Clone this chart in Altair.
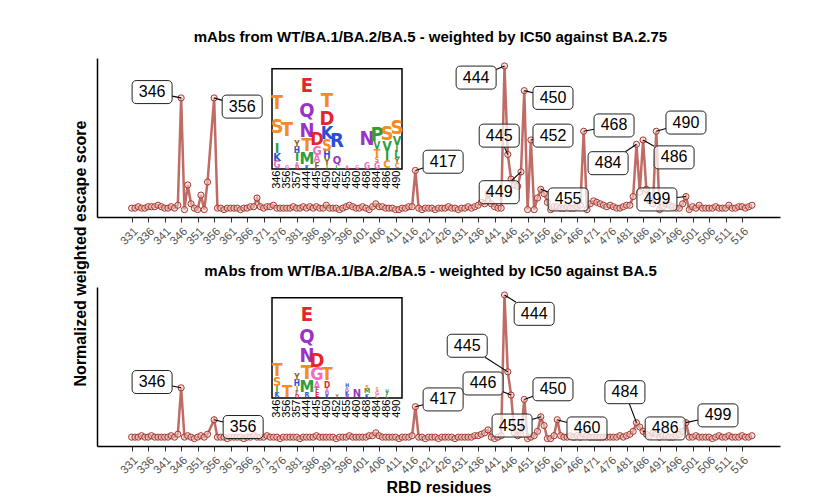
import math
import altair as alt
import pandas as pd

# ---------------- data ----------------
residues = [r for r in range(331, 520) if r != 355]

top_scores = [
    .02, .02, .03, .02, .02, .03, .03, .03, .04, .03,   # 331-340
    .02, .02, .03, .02, .04, .78, .01, .18, .05, .02,   # 341-350
    .01, .11, .01, .20,                                 # 351-354
    .78, .02, .02, .01, .02,                            # 356-360
    .02, .02, .02, .01, .02, .02, .03, .03, .09, .03,   # 361-370
    .02, .03, .03, .04, .02, .02, .02, .02, .02, .03,   # 371-380
    .02, .02, .03, .02, .03, .02, .03, .02, .02, .04,   # 381-390
    .02, .02, .02, .01, .02, .03, .04, .03, .02, .02,   # 391-400
    .03, .02, .01, .03, .05, .03, .03, .02, .02, .02,   # 401-410
    .01, .01, .02, .02, .03, .03, .28, .02, .01, .02,   # 411-420
    .02, .02, .01, .02, .02, .02, .03, .02, .02, .01,   # 421-430
    .02, .02, .03, .02, .03, .04, .06, .05, .12, .05,   # 431-440
    .03, .02, .02, 1.0, .39, .22, .18, .17, .27, .83,   # 441-450
    .01, .49, .01, .09, .15, .12, .06, .01, .03, .03,   # 451-460
    .02, .02, .03, .02, .02, .03, .04, .55, .01, .05,   # 461-470
    .07, .06, .05, .04, .03, .04, .03, .02, .02, .03,   # 471-480
    .04, .04, .10, .46, .13, .49, .15, .07, .05, .55,   # 481-490
    .01, .03, .05, .04, .03, .02, .02, .05, .10, .01,   # 491-500
    .03, .02, .04, .02, .02, .02, .02, .03, .02, .02,   # 501-510
    .02, .04, .02, .02, .03, .03, .02, .03, .04,        # 511-519
]

bottom_scores = [
    .02, .02, .02, .03, .02, .02, .03, .02, .02, .02,   # 331-340
    .02, .02, .03, .02, .04, .36, .02, .03, .02, .01,   # 341-350
    .02, .03, .02, .04,                                 # 351-354
    .14, .02, .02, .02, .01,                            # 356-360
    .02, .02, .02, .02, .01, .02, .02, .03, .02, .02,   # 361-370
    .02, .03, .02, .02, .02, .01, .02, .02, .02, .02,   # 371-380
    .02, .01, .02, .02, .02, .02, .03, .02, .02, .02,   # 381-390
    .02, .02, .01, .02, .02, .02, .03, .02, .02, .02,   # 391-400
    .02, .02, .03, .03, .05, .03, .02, .02, .02, .02,   # 401-410
    .02, .01, .02, .02, .02, .03, .23, .02, .02, .01,   # 411-420
    .02, .02, .02, .01, .02, .02, .02, .02, .01, .02,   # 421-430
    .02, .02, .02, .02, .03, .03, .04, .05, .07, .02,   # 431-440
    .01, .02, .03, 1.0, .47, .31, .05, .03, .04, .28,   # 441-450
    .01, .02, .03, .06, .16, .10, .01, .01, .03, .14,   # 451-460
    .03, .02, .02, .03, .02, .03, .02, .04, .03, .02,   # 461-470
    .02, .02, .02, .02, .02, .02, .02, .02, .03, .02,   # 471-480
    .03, .04, .06, .12, .09, .06, .04, .03, .05, .04,   # 481-490
    .02, .03, .03, .02, .02, .03, .04, .06, .12, .02,   # 491-500
    .02, .03, .02, .02, .02, .02, .01, .02, .03, .02,   # 501-510
    .02, .03, .02, .02, .02, .03, .02, .02, .03,        # 511-519
]

x_ticks = list(range(331, 517, 5))

top_title = "mAbs from WT/BA.1/BA.2/BA.5 - weighted by IC50 against BA.2.75"
bottom_title = "mAbs from WT/BA.1/BA.2/BA.5 - weighted by IC50 against BA.5"

# labelled residues and where their labels sit (residue, score units)
top_lab_res = [346, 356, 417, 444, 445, 449, 450, 452, 455, 468, 484, 486, 490, 499]
top_lab_x = [337.2, 364.5, 425.4, 435.4, 442.4, 442.4, 458.7, 458.7, 463.3, 477.2, 475.4, 495.4, 499.0, 490.2]
top_lab_y = [0.82, 0.72, 0.34, 0.92, 0.52, 0.13, 0.78, 0.52, 0.08, 0.59, 0.33, 0.37, 0.61, 0.08]

bot_lab_res = [346, 356, 417, 444, 445, 446, 450, 455, 460, 484, 486, 499]
bot_lab_x = [337.2, 364.8, 425.4, 453.0, 432.7, 437.5, 458.7, 446.3, 469.0, 480.5, 492.7, 508.7]
bot_lab_y = [0.40, 0.09, 0.28, 0.87, 0.65, 0.39, 0.35, 0.10, 0.08, 0.33, 0.08, 0.17]

# sequence-logo insets: per site, letters bottom -> top with heights
logo_sites = ["346", "356", "357", "444", "445", "450", "452", "455", "460", "468", "484", "486", "490"]
top_logo = [
    [("G", 7), ("K", 8), ("I", 10), ("S", 34), ("T", 14)],
    [("G", 4), ("T", 70)],
    [("D", 3), ("A", 4), ("I", 9), ("H", 6), ("Y", 6)],
    [("K", 4), ("M", 12), ("T", 13), ("N", 18), ("Q", 22), ("E", 27)],
    [("F", 6), ("A", 7), ("G", 9), ("D", 13)],
    [("I", 4), ("Y", 6), ("H", 7), ("S", 11), ("K", 13), ("D", 17), ("T", 20)],
    [("L", 4), ("Q", 8), ("R", 32)],
    [("A", 3)],
    [("G", 3)],
    [("G", 6), ("N", 47)],
    [("G", 6), ("S", 5), ("T", 8), ("V", 7), ("P", 15)],
    [("C", 8), ("I", 9), ("V", 10), ("S", 15)],
    [("C", 5), ("Y", 5), ("L", 7), ("I", 6), ("V", 9), ("S", 17)],
]
bottom_logo = [
    [("K", 5), ("I", 6), ("S", 9), ("T", 13)],
    [("T", 12)],
    [("D", 4), ("F", 4), ("I", 4), ("H", 6), ("Y", 6)],
    [("R", 5), ("M", 12), ("T", 16), ("N", 18), ("Q", 20), ("E", 23)],
    [("E", 5), ("F", 5), ("A", 6), ("G", 13), ("D", 15)],
    [("K", 3), ("Q", 3), ("A", 4), ("D", 6), ("T", 13)],
    [("Y", 3)],
    [("N", 3), ("K", 4), ("A", 4), ("H", 3)],
    [("N", 8)],
    [("K", 4), ("M", 5), ("S", 4)],
    [("C", 3), ("G", 4), ("S", 3)],
    [("L", 3), ("Y", 3), ("V", 2)],
    [],
]

letter_colors = {
    "T": "#F68B1F", "S": "#F68B1F", "C": "#F68B1F",
    "I": "#2E9E3A", "M": "#2E9E3A", "P": "#2E9E3A", "V": "#2E9E3A", "L": "#2E9E3A",
    "K": "#2A4FD6", "H": "#2A4FD6", "R": "#2A4FD6",
    "E": "#E3262A", "D": "#E3262A",
    "Q": "#9A32C8", "N": "#9A32C8",
    "G": "#F06CC4", "A": "#F06CC4",
    "Y": "#8C6420", "F": "#8C6420", "W": "#222222",
}

# ---------------- geometry ----------------
W, H = 683, 159
X_DOM = [320.5, 527.5]
Y_DOM = [-0.041, 1.055]
BOX_W, BOX_H = 40, 23
FONT = "Liberation Sans"
LINE_COLOR = "#B5524A"


def px_x(r):
    return (r - X_DOM[0]) / (X_DOM[1] - X_DOM[0]) * W


def px_y(v):
    return (Y_DOM[1] - v) / (Y_DOM[1] - Y_DOM[0]) * H


def inv_x(p):
    return X_DOM[0] + p / W * (X_DOM[1] - X_DOM[0])


def inv_y(p):
    return Y_DOM[1] - p / H * (Y_DOM[1] - Y_DOM[0])


xs = alt.Scale(domain=X_DOM, nice=False, zero=False)
ys = alt.Scale(domain=Y_DOM, nice=False, zero=False)

INSET_X = alt.Scale(domain=[0, 13], range=[175, 305], nice=False, zero=False)
INSET_Y = alt.Scale(domain=[0, 100], range=[111, 10.7], nice=False, zero=False)


def panel(scores, lab_res, lab_x, lab_y, logo, title, show_xtitle, show_ytitle, title_offset):
    df = pd.DataFrame({"res": residues, "score": scores})
    smap = dict(zip(residues, scores))
    boxes, segs = [], []
    for r, lx, ly in zip(lab_res, lab_x, lab_y):
        cx, cy = px_x(lx), px_y(ly)
        ux, uy = px_x(r), px_y(smap[r])
        boxes.append(dict(label=str(r), cx=lx, cy=ly,
                          x1=inv_x(cx - BOX_W / 2), x2=inv_x(cx + BOX_W / 2),
                          y1=inv_y(cy + BOX_H / 2), y2=inv_y(cy - BOX_H / 2)))
        dx, dy = ux - cx, uy - cy
        tx = (BOX_W / 2) / abs(dx) if dx else math.inf
        ty = (BOX_H / 2) / abs(dy) if dy else math.inf
        t = min(tx, ty)
        if t < 1:
            segs.append(dict(x=r, y=smap[r], xe=inv_x(cx + t * dx), ye=inv_y(cy + t * dy)))
    bdf = pd.DataFrame(boxes)
    sdf = pd.DataFrame(segs)

    xaxis = alt.Axis(values=x_ticks, labelAngle=-45, labelFontSize=11.5, labelColor="#555555",
                     labelFont=FONT, labelOverlap=False, labelPadding=3,
                     tickColor="#333333", tickSize=5, domainColor="black",
                     domainWidth=1.5, grid=False,
                     title="RBD residues" if show_xtitle else None,
                     titleFont=FONT, titleFontSize=16, titleFontWeight="bold", titlePadding=4)
    if show_ytitle:
        yaxis = alt.Axis(labels=False, ticks=False, grid=False, domainColor="black", domainWidth=1.5,
                         title="Normalized weighted escape score", titleFont=FONT, titleFontSize=16,
                         titleFontWeight="bold", titleAngle=-90, titleAlign="center",
                         titleBaseline="bottom", titleX=-9, titleY=195)
    else:
        yaxis = alt.Axis(labels=False, ticks=False, grid=False, domainColor="black", domainWidth=1.5,
                         title=None)

    def X(f):
        return alt.X(f, scale=xs, axis=xaxis)

    def Y(f):
        return alt.Y(f, scale=ys, axis=yaxis)

    line = alt.Chart(df).mark_line(color=LINE_COLOR, strokeWidth=2.5, opacity=0.85).encode(
        x=X("res:Q"), y=Y("score:Q"))
    pts = alt.Chart(df).mark_point(shape="circle", size=38, filled=True, fill="#F3D3CE",
                                   fillOpacity=0.55, stroke="#A8362E", strokeWidth=1).encode(
        x=X("res:Q"), y=Y("score:Q"))
    seg = alt.Chart(sdf).mark_rule(color="black", strokeWidth=1.1).encode(
        x=X("x:Q"), y=Y("y:Q"), x2="xe:Q", y2="ye:Q")
    box = alt.Chart(bdf).mark_rect(fill="white", fillOpacity=0.72, stroke="#222222",
                                   strokeWidth=1, cornerRadius=4).encode(
        x=X("x1:Q"), x2="x2:Q", y=Y("y1:Q"), y2="y2:Q")
    txt = alt.Chart(bdf).mark_text(font=FONT, fontSize=16, color="black", baseline="middle").encode(
        x=X("cx:Q"), y=Y("cy:Q"), text="label:N")
    main = alt.layer(line, pts, seg, box, txt)

    # logo inset
    rows = []
    for i, col in enumerate(logo):
        base = 0
        for letter, h in col:
            fs = max(5, min(h / 0.72, 20))
            rows.append(dict(xc=i + 0.5, ym=base + h / 2, letter=letter,
                             color=letter_colors[letter], fs=fs))
            base += h
    ldf = pd.DataFrame(rows)
    frame = pd.DataFrame({"x0": [0], "x1": [13], "y0": [0], "y1": [100]})
    sites = pd.DataFrame({"xc": [i + 0.5 for i in range(len(logo_sites))],
                          "site": logo_sites, "yy": [-1.5] * len(logo_sites)})
    fr = alt.Chart(frame).mark_rect(fill="white", stroke="black", strokeWidth=1.5).encode(
        x=alt.X("x0:Q", scale=INSET_X, axis=None), x2="x1:Q",
        y=alt.Y("y0:Q", scale=INSET_Y, axis=None), y2="y1:Q")
    letters = alt.Chart(ldf).mark_text(font="Liberation Sans Narrow, DejaVu Sans Condensed, Liberation Sans",
                                       fontWeight="bold", baseline="middle").encode(
        x=alt.X("xc:Q", scale=INSET_X, axis=None), y=alt.Y("ym:Q", scale=INSET_Y, axis=None),
        text="letter:N", color=alt.Color("color:N", scale=None), size=alt.Size("fs:Q", scale=None))
    sitelab = alt.Chart(sites).mark_text(font=FONT, fontSize=11, angle=270, align="right",
                                         baseline="middle", color="black").encode(
        x=alt.X("xc:Q", scale=INSET_X, axis=None), y=alt.Y("yy:Q", scale=INSET_Y, axis=None),
        text="site:N")
    inset = alt.layer(fr, letters, sitelab)

    return alt.layer(main, inset).resolve_scale(x="independent", y="independent").properties(
        width=W, height=H,
        title=alt.TitleParams(title, font=FONT, fontSize=15, fontWeight="bold", anchor="middle",
                              offset=title_offset, dx=-8))


top = panel(top_scores, top_lab_res, top_lab_x, top_lab_y, top_logo, top_title, False, True, 13)
bottom = panel(bottom_scores, bot_lab_res, bot_lab_x, bot_lab_y, bottom_logo, bottom_title, True, False, 8)

chart = alt.vconcat(top, bottom, spacing=70, bounds="flush").properties(
    padding={"left": 64, "top": 22, "right": 10, "bottom": 5}
).configure_view(stroke=None)

chart.save("out.html", embed_options={"renderer": "svg", "actions": False})
